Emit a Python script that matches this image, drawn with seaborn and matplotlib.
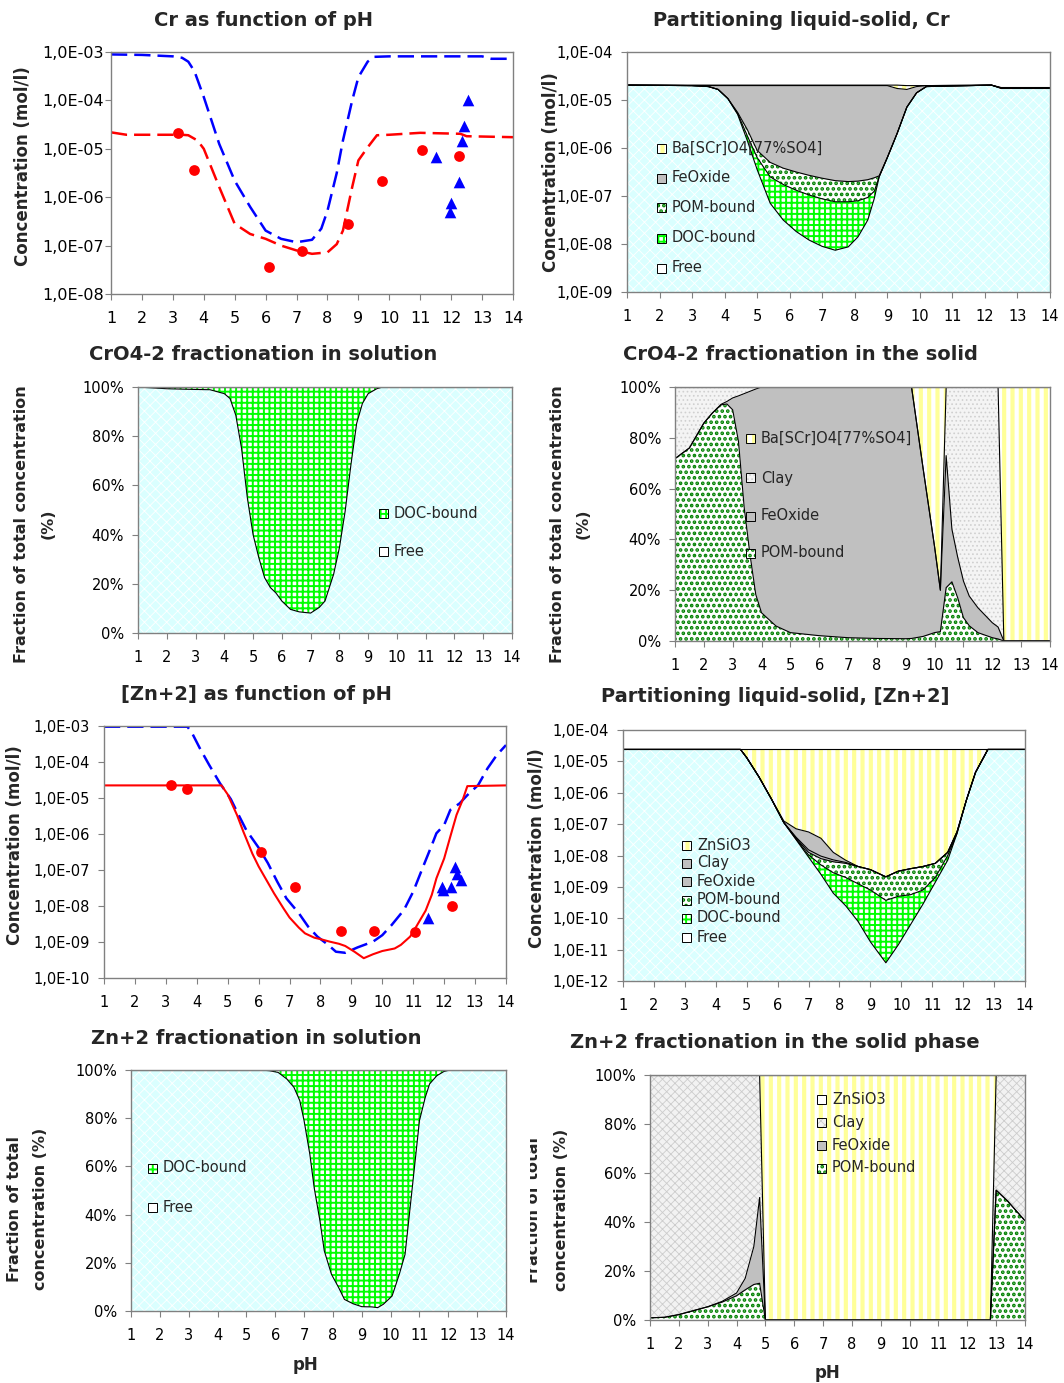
import numpy as np
import matplotlib
matplotlib.use("Agg")
import matplotlib.pyplot as plt
from matplotlib.patches import Rectangle
from matplotlib.transforms import Bbox
from matplotlib.ticker import FixedLocator, FuncFormatter, NullLocator
import seaborn as sns

sns.set_theme(style="white")
plt.rcParams["font.family"] = ["DejaVu Sans"]
plt.rcParams["hatch.linewidth"] = 1.0

W, H = 1064, 1383

# ---------------- data (concentrations as log10 mol/l, fractions in %) ----------------
# Cr as function of pH
cr_blue_ph = [1.0, 2.0, 3.0, 3.3, 3.5, 3.7, 4.0, 4.5, 5.0, 5.5, 6.0, 6.5, 7.0, 7.5, 7.8, 8.0,
              8.3, 8.5, 8.8, 9.0, 9.3, 9.5, 10.0, 13.0, 13.3, 14.0]
cr_blue_log = [-3.05, -3.06, -3.09, -3.12, -3.20, -3.40, -3.93, -4.90, -5.66, -6.20, -6.69, -6.86,
               -6.93, -6.88, -6.65, -6.28, -5.50, -4.83, -4.00, -3.52, -3.20, -3.10, -3.09, -3.09,
               -3.14, -3.14]
cr_red_ph = [1.0, 1.5, 3.3, 3.5, 3.8, 4.0, 4.5, 5.0, 5.5, 6.0, 6.5, 7.0, 7.5, 8.0, 8.3, 8.5, 8.8,
             9.0, 9.3, 9.6, 10.0, 11.0, 12.3, 12.5, 14.0]
cr_red_log = [-4.66, -4.71, -4.71, -4.72, -4.83, -5.00, -5.79, -6.55, -6.76, -6.86, -7.00, -7.10,
              -7.17, -7.14, -6.97, -6.69, -5.79, -5.24, -4.97, -4.72, -4.71, -4.67, -4.69, -4.74,
              -4.76]
cr_dots_ph = [3.16, 3.70, 6.11, 7.18, 8.67, 9.75, 11.07, 12.25]
cr_dots_log = [-4.67, -5.43, -7.45, -7.12, -6.55, -5.66, -5.03, -5.14]
cr_tri_ph = [11.50, 11.97, 12.01, 12.24, 12.36, 12.41, 12.54]
cr_tri_log = [-5.17, -6.30, -6.12, -5.69, -4.83, -4.52, -4.00]

# Partitioning liquid-solid, Cr (cumulative levels)
crp_ph = [1.0, 3.0, 3.5, 3.8, 4.1, 4.4, 4.7, 5.0, 5.4, 5.8, 6.2, 6.6, 7.0, 7.4, 7.8, 8.1, 8.4,
          8.6, 8.75, 9.0, 9.3, 9.6, 9.9, 10.2, 12.2, 12.5, 14.0]
crp_free = [-4.69, -4.70, -4.72, -4.78, -4.97, -5.30, -5.85, -6.45, -7.15, -7.50, -7.74, -7.92,
            -8.05, -8.13, -8.06, -7.85, -7.50, -7.05, -6.60, -6.20, -5.70, -5.15, -4.85, -4.72,
            -4.69, -4.75, -4.75]
crp_doc = [-4.69, -4.70, -4.72, -4.78, -4.97, -5.28, -5.75, -6.20, -6.60, -6.76, -6.88, -6.98,
           -7.06, -7.12, -7.12, -7.10, -7.03, -6.90, -6.60, -6.20, -5.70, -5.15, -4.85, -4.72,
           -4.69, -4.75, -4.75]
crp_pom = [-4.69, -4.70, -4.72, -4.78, -4.97, -5.26, -5.62, -6.05, -6.30, -6.42, -6.50, -6.57,
           -6.63, -6.68, -6.70, -6.69, -6.66, -6.62, -6.58, -6.20, -5.70, -5.15, -4.85, -4.72,
           -4.69, -4.75, -4.75]
crp_feox = [-4.69, -4.70, -4.70, -4.70, -4.70, -4.70, -4.70, -4.70, -4.70, -4.70, -4.70, -4.70,
            -4.70, -4.70, -4.70, -4.70, -4.70, -4.70, -4.70, -4.70, -4.76, -4.78, -4.72, -4.70,
            -4.69, -4.76, -4.76]
crp_total = [-4.69, -4.69, -4.69, -4.69, -4.69, -4.69, -4.69, -4.69, -4.69, -4.69, -4.69, -4.69,
             -4.69, -4.69, -4.69, -4.69, -4.69, -4.69, -4.69, -4.69, -4.69, -4.70, -4.70, -4.70,
             -4.69, -4.74, -4.74]

# CrO4-2 fractionation in solution (% free)
crs_ph = [1.0, 2.0, 3.0, 3.5, 4.0, 4.2, 4.4, 4.6, 4.8, 5.0, 5.2, 5.4, 5.6, 5.8, 6.0, 6.3, 6.6,
          7.0, 7.3, 7.5, 7.8, 8.0, 8.2, 8.4, 8.6, 8.8, 9.0, 9.3, 9.5, 14.0]
crs_free = [100, 99.3, 99.0, 98.9, 97.3, 95.3, 88.5, 75, 55, 40, 30.6, 22.5, 18.5, 16.2, 13,
            9.6, 8.6, 8.1, 10.4, 13, 23.9, 34.6, 49.5, 68.3, 85.2, 93.3, 97.3, 99.3, 100, 100]

# CrO4-2 fractionation in the solid (cumulative %)
crf_ph = [1.0, 1.5, 2.0, 2.3, 2.6, 2.8, 3.0, 3.2, 3.4, 3.6, 3.8, 4.0, 4.5, 5.0, 6.0, 7.0, 8.0,
          9.0, 9.2, 9.6, 10.0, 10.2, 10.4, 10.6, 10.8, 11.0, 11.2, 11.5, 12.0, 12.2, 12.4, 13.0,
          14.0]
crf_pom = [71.8, 76, 85.8, 89.8, 93, 93.3, 91, 78.6, 52.4, 34, 18.3, 11.1, 5.9, 3.3, 2.1, 1.3,
           1.0, 0.9, 1.0, 1.8, 3.3, 3.7, 21, 23.3, 17, 9.2, 6, 3.3, 1.3, 0.8, 0, 0, 0]
crf_feox = [71.8, 76, 85.8, 89.8, 93.2, 94.3, 95.7, 96.5, 97.4, 98.3, 99.2, 100, 100, 100, 100,
            100, 100, 100, 100, 68, 37, 20, 73, 44, 33, 23.6, 17.7, 13.1, 7.2, 5.5, 0, 0, 0]
crf_clay = [100, 100, 100, 100, 100, 100, 100, 100, 100, 100, 100, 100, 100, 100, 100, 100, 100,
            100, 100, 68, 37, 20, 100, 100, 100, 100, 100, 100, 100, 100, 0, 0, 0]
crf_total = [100] * len(crf_ph)

# [Zn+2] as function of pH
zn_blue_ph = [1.0, 3.7, 3.85, 4.1, 4.4, 4.75, 5.1, 5.3, 5.6, 6.0, 6.3, 6.6, 6.9, 7.3, 7.6, 7.9,
              8.25, 8.5, 8.8, 9.2, 9.7, 10.0, 10.3, 10.7, 11.0, 11.3, 11.6, 11.75, 12.0, 12.2,
              12.5, 12.75, 13.1, 13.4, 13.7, 14.0]
zn_blue_log = [-3.02, -3.02, -3.20, -3.62, -4.08, -4.59, -5.03, -5.38, -5.89, -6.38, -6.81, -7.32,
               -7.79, -8.20, -8.57, -8.85, -9.08, -9.27, -9.30, -9.15, -8.99, -8.81, -8.53, -8.11,
               -7.60, -6.95, -6.31, -5.98, -5.75, -5.33, -5.15, -4.92, -4.64, -4.18, -3.81, -3.53]
zn_red_ph = [1.0, 4.8, 5.0, 5.3, 5.5, 5.8, 6.0, 6.3, 6.5, 6.8, 7.0, 7.3, 7.5, 7.8, 8.0, 8.3, 8.6,
             8.8, 9.1, 9.4, 9.7, 10.0, 10.4, 10.6, 10.9, 11.1, 11.4, 11.6, 11.75, 12.0, 12.2,
             12.4, 12.6, 12.75, 14.0]
zn_red_log = [-4.65, -4.65, -4.90, -5.47, -5.92, -6.55, -6.90, -7.35, -7.65, -8.06, -8.32, -8.60,
              -8.76, -8.88, -8.92, -8.99, -9.05, -9.11, -9.27, -9.45, -9.34, -9.25, -9.18, -9.08,
              -8.85, -8.57, -8.13, -7.69, -7.23, -6.68, -6.07, -5.47, -5.05, -4.67, -4.65]
zn_dots_ph = [3.16, 3.69, 6.09, 7.17, 8.68, 9.74, 11.07, 12.25]
zn_dots_log = [-4.63, -4.75, -6.51, -7.48, -8.69, -8.69, -8.71, -7.99]
zn_tri_ph = [11.49, 11.92, 11.97, 12.22, 12.34, 12.41, 12.54]
zn_tri_log = [-8.34, -7.46, -7.55, -7.46, -6.91, -7.12, -7.28]

# Partitioning liquid-solid, [Zn+2] (cumulative levels)
znp_ph = [1.0, 4.8, 5.0, 5.4, 5.8, 6.2, 6.6, 7.0, 7.4, 7.8, 8.2, 8.6, 9.0, 9.5, 9.9, 10.3, 10.7,
          11.1, 11.5, 11.8, 12.1, 12.4, 12.8, 14.0]
znp_free = [-4.62, -4.62, -4.88, -5.50, -6.20, -6.95, -7.50, -8.05, -8.60, -9.20, -9.60, -10.10,
            -10.75, -11.42, -10.85, -10.20, -9.55, -8.85, -8.15, -7.30, -6.25, -5.35, -4.62, -4.62]
znp_doc = [-4.62, -4.62, -4.88, -5.50, -6.20, -6.95, -7.48, -7.98, -8.30, -8.55, -8.70, -8.90,
           -9.10, -9.43, -9.30, -9.25, -9.10, -8.70, -8.00, -7.30, -6.25, -5.35, -4.62, -4.62]
znp_pom = [-4.62, -4.62, -4.88, -5.50, -6.20, -6.95, -7.45, -7.90, -8.10, -8.20, -8.25, -8.35,
           -8.45, -8.68, -8.50, -8.42, -8.35, -8.25, -7.90, -7.25, -6.25, -5.35, -4.62, -4.62]
znp_feox = [-4.62, -4.62, -4.88, -5.50, -6.20, -6.95, -7.42, -7.82, -8.02, -8.14, -8.22, -8.35,
            -8.45, -8.68, -8.50, -8.42, -8.35, -8.25, -7.90, -7.25, -6.25, -5.35, -4.62, -4.62]
znp_clay = [-4.62, -4.62, -4.88, -5.50, -6.20, -6.90, -7.15, -7.25, -7.45, -7.90, -8.15, -8.35,
            -8.45, -8.68, -8.50, -8.42, -8.35, -8.25, -7.90, -7.25, -6.25, -5.35, -4.62, -4.62]
znp_total = [-4.62] * len(znp_ph)

# Zn+2 fractionation in solution (% free)
zns_ph = [1.0, 5.5, 5.8, 6.1, 6.4, 6.65, 6.85, 7.0, 7.2, 7.35, 7.55, 7.7, 7.95, 8.2, 8.4, 8.7,
          9.0, 9.35, 9.55, 9.75, 10.05, 10.3, 10.5, 10.65, 10.85, 11.0, 11.2, 11.35, 11.6, 11.85,
          12.05, 14.0]
zns_free = [100, 100, 99.7, 99, 96.3, 92.8, 87.3, 79, 65, 51.2, 37.4, 25, 15.2, 9.7, 4.8, 3.0,
            1.8, 1.7, 1.4, 2.8, 6.2, 15.2, 23.5, 40, 62.3, 79, 88.6, 94.2, 97.6, 99.4, 100, 100]

# Zn+2 fractionation in the solid phase (cumulative %)
znf_ph = [1.0, 1.5, 2.0, 2.5, 3.0, 3.5, 4.0, 4.3, 4.6, 4.8, 5.0, 12.8, 13.0, 13.4, 13.7, 14.0]
znf_pom = [0.9, 1.1, 2.2, 3.8, 5.4, 7.3, 9.9, 12.3, 14.5, 15.0, 0, 0, 53, 48.5, 44.5, 40.5]
znf_feox = [0.9, 1.1, 2.2, 3.8, 5.4, 7.6, 11.0, 17.0, 30.0, 50.0, 0, 0, 53, 48.5, 44.5, 40.5]
znf_clay = [100, 100, 100, 100, 100, 100, 100, 100, 100, 100, 0, 0, 100, 100, 100, 100]
znf_total = [100] * len(znf_ph)

# ---------------- fill styles (style, hatch line width) ----------------
FREE = (dict(facecolor="#DAFFFF", edgecolor="white", hatch="xxx"), 0.6)
DOC = (dict(facecolor="white", edgecolor="#00FF00", hatch="+++"), 1.4)
POM = (dict(facecolor="white", edgecolor="#008000", hatch="..."), 1.8)
FEOX = (dict(facecolor="#C0C0C0", edgecolor="#C0C0C0", hatch=None), 1.0)
CLAY_DOT = (dict(facecolor="#F4F4F4", edgecolor="#D0D0D0", hatch="...."), 0.7)
CLAY_X = (dict(facecolor="#F2F2F2", edgecolor="#CCCCCC", hatch="xxxx"), 0.6)
YELLOW = (dict(facecolor="white", edgecolor="#FFFF99", hatch="||"), 3.0)
WHITE = (dict(facecolor="white", edgecolor="white", hatch=None), 1.0)
GRAY_EDGE = "#808080"

fig = plt.figure(figsize=(W / 100, H / 100), dpi=100)


def with_hatch(make, hlw):
    with plt.rc_context({"hatch.linewidth": hlw}):
        art = make()
    if hasattr(art, "set_hatch_linewidth"):
        art.set_hatch_linewidth(hlw)
    return art


def axes_px(left, top, right, bottom):
    return fig.add_axes([left / W, 1 - bottom / H, (right - left) / W, (bottom - top) / H])


def frame(ax, fs, ypad):
    ax.set_xlim(1, 14)
    ax.set_xticks(range(1, 15))
    ax.tick_params(axis="both", which="major", bottom=True, left=True, direction="out",
                   length=4, width=0.8, color=GRAY_EDGE, labelsize=fs, labelcolor="black")
    ax.tick_params(axis="x", pad=8.5)
    ax.tick_params(axis="y", pad=ypad)
    ax.set_facecolor("white")
    ax.grid(False)
    for sp in ax.spines.values():
        sp.set_visible(True)
        sp.set_color(GRAY_EDGE)
        sp.set_linewidth(1.0)


def log_axis(ax, lo, hi):
    ax.set_yscale("log")
    ax.set_ylim(10.0 ** lo, 10.0 ** hi)
    ax.yaxis.set_major_locator(FixedLocator([10.0 ** e for e in range(lo, hi + 1)]))
    ax.yaxis.set_minor_locator(NullLocator())
    ax.yaxis.set_major_formatter(FuncFormatter(lambda v, p: "1,0E%+03d" % round(np.log10(v))))


def pct_axis(ax):
    ax.set_ylim(0, 100)
    ax.set_yticks(range(0, 101, 20))
    ax.yaxis.set_major_formatter(FuncFormatter(lambda v, p: "%d%%" % v))


def stack(ax, x, base, layers):
    lo = np.full(len(x), base, dtype=float)
    for hi, (st, hlw) in layers:
        with_hatch(lambda: ax.fill_between(x, lo, hi, linewidth=0, zorder=1, **st), hlw)
        lo = np.asarray(hi, dtype=float)
    for hi, _ in layers:
        ax.plot(x, hi, color="black", lw=0.8, zorder=2)


def legend_px(x, ys, labels, styles, fs=10.5):
    for y, lab, (st, hlw) in zip(ys, labels, styles):
        box = [(x - 4.5) / W, 1 - (y + 4.5) / H]
        with_hatch(lambda: fig.add_artist(Rectangle(box, 9 / W, 9 / H,
                                                    transform=fig.transFigure,
                                                    linewidth=0, **st)), hlw)
        fig.add_artist(Rectangle(box, 9 / W, 9 / H, transform=fig.transFigure,
                                 fill=False, edgecolor="black", linewidth=0.7))
        fig.text((x + 11) / W, 1 - y / H, lab, fontsize=fs, ha="left", va="center")


def label_px(x, y, s, fs, rot=0, clip_left=None):
    t = fig.text(x / W, 1 - y / H, s, fontsize=fs, fontweight="bold", rotation=rot,
                 ha="center", va="center")
    if clip_left is not None:
        t.set_clip_box(Bbox([[clip_left, 0], [W, H]]))
        t.set_clip_on(True)
    return t


def lg(v):
    return 10.0 ** np.asarray(v, dtype=float)


dash = (0, (6.5, 2.8))

# ---- Cr as function of pH ----
ax1 = axes_px(111, 52, 513, 294)
log_axis(ax1, -8, -3)
sns.lineplot(x=cr_blue_ph, y=lg(cr_blue_log), ax=ax1, color="#0000FF", lw=1.8,
             linestyle=dash, estimator=None, sort=False)
sns.lineplot(x=cr_red_ph, y=lg(cr_red_log), ax=ax1, color="#FF0000", lw=1.8,
             linestyle=dash, estimator=None, sort=False)
sns.scatterplot(x=cr_dots_ph, y=lg(cr_dots_log), ax=ax1, color="#FF0000", marker="o",
                s=60, linewidth=0, zorder=3)
sns.scatterplot(x=cr_tri_ph, y=lg(cr_tri_log), ax=ax1, color="#0000FF", marker="^",
                s=70, linewidth=0, zorder=3)
frame(ax1, 11.5, 1.0)

# ---- Partitioning liquid-solid, Cr ----
ax2 = axes_px(627, 52, 1050, 292)
log_axis(ax2, -9, -4)
stack(ax2, crp_ph, 1e-9, [(lg(crp_free), FREE), (lg(crp_doc), DOC), (lg(crp_pom), POM),
                          (lg(crp_feox), FEOX), (lg(crp_total), YELLOW)])
frame(ax2, 10.5, 6)
legend_px(661, [148, 178, 207, 238, 268],
          ["Ba[SCr]O4[77%SO4]", "FeOxide", "POM-bound", "DOC-bound", "Free"],
          [YELLOW, FEOX, POM, DOC, WHITE])

# ---- CrO4-2 fractionation in solution ----
ax3 = axes_px(138, 387, 512, 633)
pct_axis(ax3)
stack(ax3, crs_ph, 0, [(crs_free, FREE), ([100] * len(crs_ph), DOC)])
frame(ax3, 10.5, 6)
legend_px(383, [513, 552], ["DOC-bound", "Free"], [DOC, WHITE])

# ---- CrO4-2 fractionation in the solid ----
ax4 = axes_px(675, 387, 1050, 641)
pct_axis(ax4)
stack(ax4, crf_ph, 0, [(crf_pom, POM), (crf_feox, FEOX), (crf_clay, CLAY_DOT),
                       (crf_total, YELLOW)])
frame(ax4, 10.5, 6)
legend_px(750, [438, 478, 516, 553], ["Ba[SCr]O4[77%SO4]", "Clay", "FeOxide", "POM-bound"],
          [YELLOW, CLAY_DOT, FEOX, POM])

# ---- [Zn+2] as function of pH ----
ax5 = axes_px(104, 726, 506, 978)
log_axis(ax5, -10, -3)
sns.lineplot(x=zn_blue_ph, y=lg(zn_blue_log), ax=ax5, color="#0000FF", lw=1.8,
             linestyle=dash, estimator=None, sort=False)
sns.lineplot(x=zn_red_ph, y=lg(zn_red_log), ax=ax5, color="#FF0000", lw=1.5,
             estimator=None, sort=False)
sns.scatterplot(x=zn_dots_ph, y=lg(zn_dots_log), ax=ax5, color="#FF0000", marker="o",
                s=60, linewidth=0, zorder=3)
sns.scatterplot(x=zn_tri_ph, y=lg(zn_tri_log), ax=ax5, color="#0000FF", marker="^",
                s=70, linewidth=0, zorder=3)
frame(ax5, 10.5, 6)

# ---- Partitioning liquid-solid, [Zn+2] ----
ax6 = axes_px(623, 730, 1025, 981)
log_axis(ax6, -12, -4)
stack(ax6, znp_ph, 1e-12, [(lg(znp_free), FREE), (lg(znp_doc), DOC), (lg(znp_pom), POM),
                           (lg(znp_feox), FEOX), (lg(znp_clay), FEOX),
                           (lg(znp_total), YELLOW)])
frame(ax6, 10.5, 6)
legend_px(686, [845, 863, 881, 900, 918, 937],
          ["ZnSiO3", "Clay", "FeOxide", "POM-bound", "DOC-bound", "Free"],
          [YELLOW, FEOX, FEOX, POM, DOC, WHITE])

# ---- Zn+2 fractionation in solution ----
ax7 = axes_px(131, 1070, 506, 1311)
pct_axis(ax7)
stack(ax7, zns_ph, 0, [(zns_free, FREE), ([100] * len(zns_ph), DOC)])
frame(ax7, 10.5, 6)
legend_px(152, [1168, 1207], ["DOC-bound", "Free"], [DOC, WHITE])

# ---- Zn+2 fractionation in the solid phase ----
ax8 = axes_px(650, 1075, 1025, 1320)
pct_axis(ax8)
stack(ax8, znf_ph, 0, [(znf_pom, POM), (znf_feox, FEOX), (znf_clay, CLAY_X),
                       (znf_total, YELLOW)])
frame(ax8, 10.5, 6)
legend_px(821, [1099, 1122, 1145, 1168], ["ZnSiO3", "Clay", "FeOxide", "POM-bound"],
          [WHITE, CLAY_X, FEOX, POM])

# ---- titles and axis labels ----
for x, y, s in [(263, 20, "Cr as function of pH"),
                (801, 20, "Partitioning liquid-solid, Cr"),
                (263, 355, "CrO4-2 fractionation in solution"),
                (800, 355, "CrO4-2 fractionation in the solid"),
                (256, 695, "[Zn+2] as function of pH"),
                (775, 697, "Partitioning liquid-solid, [Zn+2]"),
                (256, 1039, "Zn+2 fractionation in solution"),
                (775, 1043, "Zn+2 fractionation in the solid phase")]:
    label_px(x, y, s, 14)

label_px(23, 166, "Concentration (mol/l)", 12, rot=90)
label_px(551, 172, "Concentration (mol/l)", 12, rot=90)
label_px(22, 524, "Fraction of total concentration", 11.5, rot=90)
label_px(48, 524, "(%)", 11.5, rot=90)
label_px(557, 524, "Fraction of total concentration", 11.5, rot=90)
label_px(583, 524, "(%)", 11.5, rot=90)
label_px(15, 845, "Concentration (mol/l)", 12, rot=90)
label_px(537, 848, "Concentration (mol/l)", 12, rot=90)
label_px(15, 1209, "Fraction of total", 11.5, rot=90)
label_px(41, 1209, "concentration (%)", 11.5, rot=90)
label_px(533, 1210, "Fraction of total", 11.5, rot=90, clip_left=530)
label_px(561, 1210, "concentration (%)", 11.5, rot=90)
label_px(306, 1365, "pH", 12)
label_px(827, 1373, "pH", 12)

fig.savefig("out.png", dpi=100)
